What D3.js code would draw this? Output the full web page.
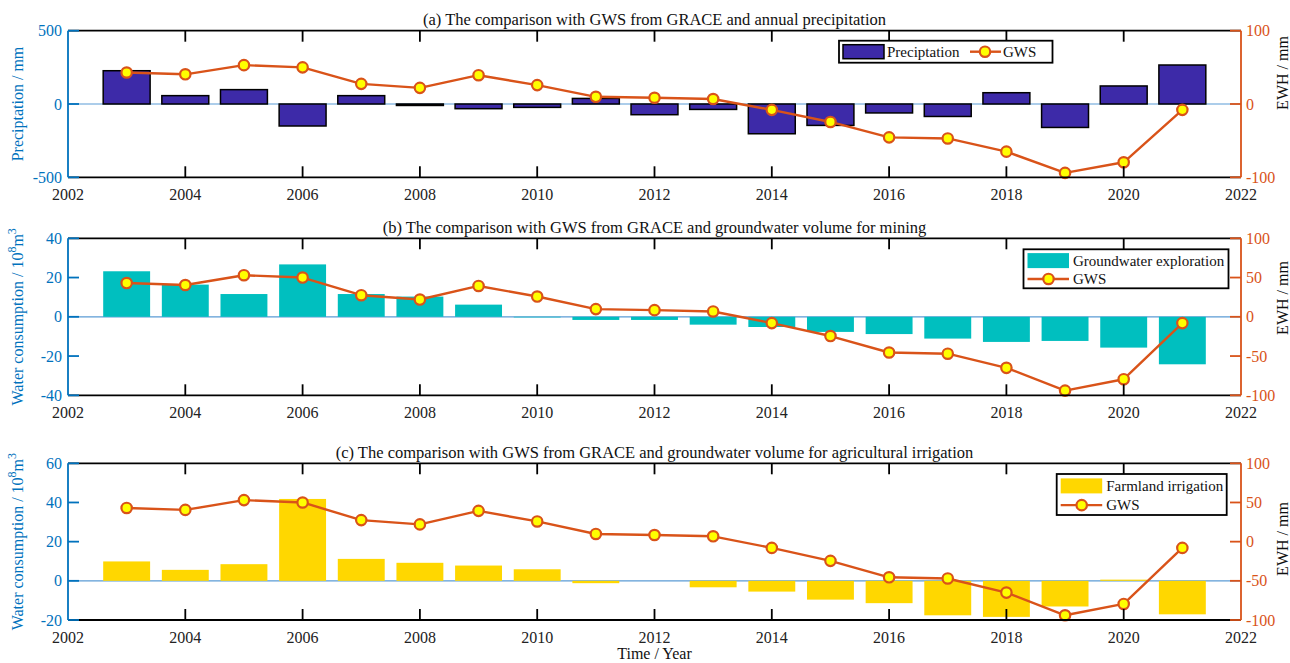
<!DOCTYPE html>
<html>
<head>
<meta charset="utf-8">
<script src="https://cdn.jsdelivr.net/npm/d3@7"></script>
<style>
  html, body { margin: 0; padding: 0; background: #fff; }
  svg { display: block; font-family: "Liberation Serif", "Times New Roman", serif; }
</style>
</head>
<body>
<svg id="chart" width="1290" height="663"></svg>
<script>
// Annual series, 2003–2021
const years = [2003, 2004, 2005, 2006, 2007, 2008, 2009, 2010, 2011, 2012,
               2013, 2014, 2015, 2016, 2017, 2018, 2019, 2020, 2021];
// GRACE groundwater storage anomaly (EWH, mm)
const gws = [43, 40.5, 53, 50, 27.5, 22, 39.3, 25.8, 9.8, 8.5,
             6.8, -8, -24.5, -45.5, -47, -65, -94, -79.5, -8];
// Annual precipitation anomaly (mm)
const precipitation = [227, 57, 98, -150, 57, -10, -32, -23, 38, -73,
                       -37, -203, -146, -61, -85, 77, -160, 123, 266];
// Groundwater volume for mining (10^8 m^3)
const exploration = [23.2, 16.4, 11.6, 26.7, 11.6, 10.3, 6.2, -0.3, -1.6, -1.6,
                     -4.0, -5.2, -7.7, -8.8, -11.1, -12.8, -12.3, -15.7, -24.2];
// Groundwater volume for agricultural irrigation (10^8 m^3)
const irrigation = [9.9, 5.6, 8.5, 41.8, 11.2, 9.2, 7.8, 5.9, -1.2, 0,
                    -3.3, -5.5, -9.6, -11.4, -17.6, -18.4, -13.1, 0.6, -17.1];

const xTicks = [2002, 2004, 2006, 2008, 2010, 2012, 2014, 2016, 2018, 2020, 2022];
const ticksA = [-500, 0, 500];
const ticksB = [-40, -20, 0, 20, 40];
const ticksC = [-20, 0, 20, 40, 60];
const ticksEWH = [-100, -50, 0, 50, 100];
const ticksEWHa = [-100, 0, 100];

const BLUE = "#0072BD", ORANGE = "#D95319", BASE = "#5b9bd5";
const FS = 16;       // tick / label font size
const FT = 16.5;     // panel title font size
const svg = d3.select("#chart");
const x = d3.scaleLinear().domain([2002, 2022]).range([68, 1241]);
const barW = 0.8 * (x(2003) - x(2002));
const TL = 11; // tick length

const panels = [
  { top: 30.7, bottom: 177.3, values: precipitation, dom: [-500, 500], ticks: ticksA, rticks: ticksEWHa,
    fill: "#3d2aa8", edge: "#000", title: "(a) The comparison with GWS from GRACE and annual precipitation",
    ylab: "Preciptation / mm", sup: false, ewhY: 73,
    legend: { type: "h", x: 839, y: 40.7, w: 213.5, h: 22, label: "Preciptation" } },
  { top: 238.3, bottom: 395.3, values: exploration, dom: [-40, 40], ticks: ticksB, rticks: ticksEWH,
    fill: "#00bfbf", edge: null, title: "(b) The comparison with GWS from GRACE and groundwater volume for mining",
    ylab: "Water consumption / 10", sup: true, ewhY: 298,
    legend: { type: "v", x: 1023.5, y: 249.3, w: 205, h: 39, label: "Groundwater exploration" } },
  { top: 463.3, bottom: 620, values: irrigation, dom: [-20, 60], ticks: ticksC, rticks: ticksEWH,
    fill: "#ffd700", edge: null, title: "(c) The comparison with GWS from GRACE and groundwater volume for agricultural irrigation",
    ylab: "Water consumption / 10", sup: true, ewhY: 539,
    legend: { type: "v", x: 1056.7, y: 474, w: 170, h: 41, label: "Farmland irrigation" } }
];

function marker(g, cx, cy) {
  g.append("circle").attr("cx", cx).attr("cy", cy).attr("r", 5.2)
    .attr("fill", "#ffff00").attr("stroke", ORANGE).attr("stroke-width", 2.2);
}

panels.forEach(p => {
  const g = svg.append("g");
  const yL = d3.scaleLinear().domain(p.dom).range([p.bottom, p.top]);
  const yR = d3.scaleLinear().domain([-100, 100]).range([p.bottom, p.top]);
  const left = x.range()[0], right = x.range()[1];

  // bar baseline
  g.append("line").attr("x1", left).attr("x2", right).attr("y1", yL(0)).attr("y2", yL(0))
    .attr("stroke", BASE).attr("stroke-width", 1.2);

  // bars
  g.selectAll("rect.bar").data(years).join("rect").attr("class", "bar")
    .attr("x", (d) => x(d) - barW / 2)
    .attr("width", barW)
    .attr("y", (d, i) => yL(Math.max(0, p.values[i])))
    .attr("height", (d, i) => Math.abs(yL(p.values[i]) - yL(0)))
    .attr("fill", p.fill)
    .attr("stroke", p.edge || "none")
    .attr("stroke-width", p.edge ? 1.5 : 0);

  // GWS line
  const line = d3.line().x(d => x(d[0])).y(d => yR(d[1]));
  const pts = years.map((yr, i) => [yr, gws[i]]);
  g.append("path").datum(pts).attr("d", line).attr("fill", "none")
    .attr("stroke", ORANGE).attr("stroke-width", 2.4).attr("stroke-linejoin", "round");
  pts.forEach(d => marker(g, x(d[0]), yR(d[1])));

  // top / bottom frame with inward ticks
  g.append("line").attr("x1", left).attr("x2", right).attr("y1", p.top).attr("y2", p.top)
    .attr("stroke", "#000").attr("stroke-width", 1.8);
  g.append("line").attr("x1", left).attr("x2", right).attr("y1", p.bottom).attr("y2", p.bottom)
    .attr("stroke", "#000").attr("stroke-width", 1.8);
  xTicks.slice(1, -1).forEach(t => {
    g.append("line").attr("x1", x(t)).attr("x2", x(t)).attr("y1", p.top).attr("y2", p.top + TL)
      .attr("stroke", "#000").attr("stroke-width", 1.8);
    g.append("line").attr("x1", x(t)).attr("x2", x(t)).attr("y1", p.bottom).attr("y2", p.bottom - TL)
      .attr("stroke", "#000").attr("stroke-width", 1.8);
  });
  g.selectAll("text.xt").data(xTicks).join("text").attr("class", "xt")
    .attr("x", d => x(d)).attr("y", p.bottom + 23).attr("text-anchor", "middle")
    .attr("font-size", FS).attr("fill", "#222").text(d => d);

  // left axis
  g.append("line").attr("x1", left).attr("x2", left).attr("y1", p.top).attr("y2", p.bottom)
    .attr("stroke", BLUE).attr("stroke-width", 1.8);
  p.ticks.forEach(t => {
    g.append("line").attr("x1", left).attr("x2", left + TL).attr("y1", yL(t)).attr("y2", yL(t))
      .attr("stroke", BLUE).attr("stroke-width", 1.8);
    g.append("text").attr("x", left - 6).attr("y", yL(t) + 5.5).attr("text-anchor", "end")
      .attr("font-size", FS).attr("fill", BLUE).text(t);
  });

  // right axis
  g.append("line").attr("x1", right).attr("x2", right).attr("y1", p.top).attr("y2", p.bottom)
    .attr("stroke", ORANGE).attr("stroke-width", 1.8);
  p.rticks.forEach(t => {
    g.append("line").attr("x1", right).attr("x2", right - TL).attr("y1", yR(t)).attr("y2", yR(t))
      .attr("stroke", ORANGE).attr("stroke-width", 1.8);
    g.append("text").attr("x", right + 5).attr("y", yR(t) + 5.5).attr("text-anchor", "start")
      .attr("font-size", FS).attr("fill", ORANGE).text(t);
  });

  // titles and axis labels
  g.append("text").attr("x", (left + right) / 2).attr("y", p.top - 5.5).attr("text-anchor", "middle")
    .attr("font-size", FT).attr("fill", "#111").text(p.title);

  const yl = g.append("text")
    .attr("transform", `translate(23,${(p.top + p.bottom) / 2}) rotate(-90)`)
    .attr("text-anchor", "middle").attr("font-size", FS).attr("fill", BLUE);
  if (p.sup) {
    yl.append("tspan").text(p.ylab);
    yl.append("tspan").attr("baseline-shift", "super").attr("font-size", 12).text("8");
    yl.append("tspan").text("m");
    yl.append("tspan").attr("baseline-shift", "super").attr("font-size", 12).text("3");
  } else {
    yl.text(p.ylab);
  }

  g.append("text")
    .attr("transform", `translate(1288,${p.ewhY}) rotate(-90)`)
    .attr("text-anchor", "middle").attr("font-size", FS).attr("fill", "#111").text("EWH / mm");

  // legend
  const L = p.legend;
  const lg = g.append("g");
  lg.append("rect").attr("x", L.x).attr("y", L.y).attr("width", L.w).attr("height", L.h)
    .attr("fill", "#fff").attr("stroke", "#000").attr("stroke-width", 1.8);
  if (L.type === "h") {
    const cy = L.y + L.h / 2;
    lg.append("rect").attr("x", L.x + 4).attr("y", cy - 7).attr("width", 41).attr("height", 14)
      .attr("fill", p.fill).attr("stroke", "#000").attr("stroke-width", 1.5);
    lg.append("text").attr("x", L.x + 48).attr("y", cy + 5).attr("font-size", 15).attr("fill", "#111").text(L.label);
    lg.append("line").attr("x1", L.x + 131).attr("x2", L.x + 162).attr("y1", cy).attr("y2", cy)
      .attr("stroke", ORANGE).attr("stroke-width", 2.4);
    marker(lg, L.x + 146, cy);
    lg.append("text").attr("x", L.x + 164).attr("y", cy + 5).attr("font-size", 15).attr("fill", "#111").text("GWS");
  } else {
    const r1 = L.y + L.h * 0.29, r2 = L.y + L.h * 0.76;
    lg.append("rect").attr("x", L.x + 4).attr("y", r1 - 7.5).attr("width", 41.5).attr("height", 15)
      .attr("fill", p.fill);
    lg.append("text").attr("x", L.x + 49.5).attr("y", r1 + 5).attr("font-size", 15).attr("fill", "#111").text(L.label);
    lg.append("line").attr("x1", L.x + 4).attr("x2", L.x + 45.5).attr("y1", r2).attr("y2", r2)
      .attr("stroke", ORANGE).attr("stroke-width", 2.4);
    marker(lg, L.x + 25, r2);
    lg.append("text").attr("x", L.x + 49.5).attr("y", r2 + 5).attr("font-size", 15).attr("fill", "#111").text("GWS");
  }
});

// shared x-axis label
svg.append("text").attr("x", (x.range()[0] + x.range()[1]) / 2).attr("y", 659)
  .attr("text-anchor", "middle").attr("font-size", FS).attr("fill", "#111").text("Time / Year");
</script>
</body>
</html>
